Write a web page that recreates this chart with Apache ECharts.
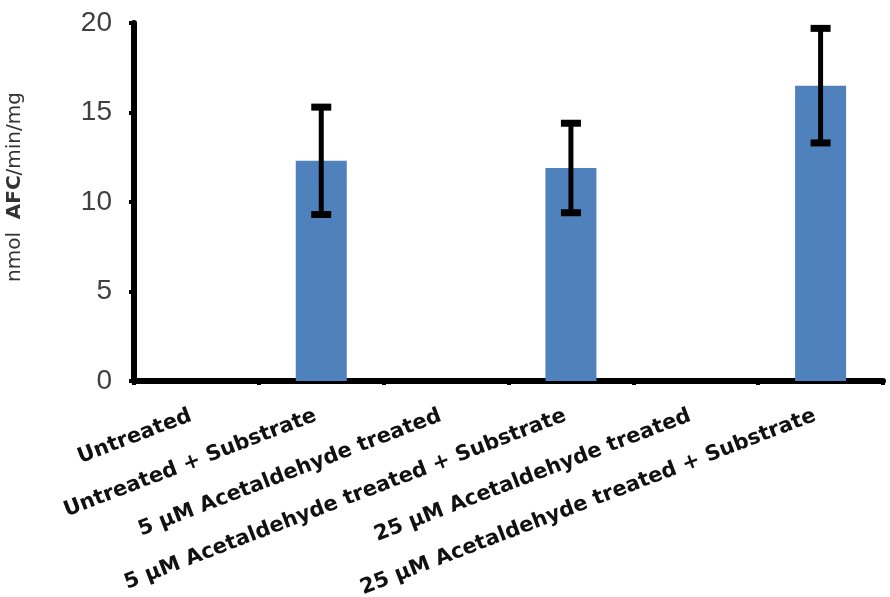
<!DOCTYPE html>
<html>
<head>
<meta charset="utf-8">
<script src="https://cdn.jsdelivr.net/npm/echarts@6/dist/echarts.min.js"></script>
<style>html,body{margin:0;padding:0;background:#fff;}#chart{width:890px;height:597px;}</style>
</head>
<body>
<div id="chart"></div>
<script>
const categories = [
  'Untreated',
  'Untreated + Substrate',
  '5 µM Acetaldehyde treated',
  '5 µM Acetaldehyde treated + Substrate',
  '25 µM Acetaldehyde treated',
  '25 µM Acetaldehyde treated + Substrate'
];
const means = [0, 12.3, 0, 11.9, 0, 16.5];
const errors = [0, 3.0, 0, 2.5, 0, 3.2];
const yTicks = [0, 5, 10, 15, 20];

const chart = echarts.init(document.getElementById('chart'));
const errData = means.map((m, i) => [i, m - errors[i], m + errors[i], errors[i]]);

chart.setOption({
  animation: false,
  backgroundColor: '#fff',
  grid: { left: 134, right: 7, top: 23, bottom: 216, containLabel: false, outerBoundsMode: 'none' },
  xAxis: {
    type: 'category',
    data: categories,
    axisLine: { lineStyle: { color: '#000', width: 6 } },
    axisTick: { show: true, length: 4, lineStyle: { color: '#000', width: 4 } },
    axisLabel: {
      interval: 0, rotate: 21, margin: 32,
      padding: [0, 6, 0, 0],
      fontFamily: 'DejaVu Sans, sans-serif',
      fontWeight: 'bold', fontSize: 21, color: '#111'
    }
  },
  yAxis: {
    type: 'value', min: yTicks[0], max: yTicks[yTicks.length - 1], interval: 5,
    name: '{a|nmol  }{b|AFC}{a|/min/mg}',
    nameLocation: 'middle', nameGap: 109,
    nameTextStyle: {
      fontSize: 20, fontFamily: 'DejaVu Sans, sans-serif', color: '#333',
      padding: [0, 0, 0, 30],
      rich: {
        a: { fontFamily: 'DejaVu Sans, sans-serif', fontSize: 20, color: '#333' },
        b: { fontFamily: 'DejaVu Sans, sans-serif', fontSize: 20, color: '#333', fontWeight: 'bold' }
      }
    },
    splitLine: { show: false },
    axisLine: { show: true, lineStyle: { color: '#000', width: 6 } },
    axisTick: { show: true, length: 5, lineStyle: { color: '#000', width: 4 } },
    axisLabel: {
      margin: 22, fontFamily: 'Liberation Sans, Arial, sans-serif',
      fontSize: 28, color: '#404040'
    }
  },
  series: [
    {
      type: 'bar', data: means, barWidth: 51,
      itemStyle: { color: '#4f81bd' }
    },
    {
      type: 'custom',
      data: errData,
      z: 10,
      renderItem: function (params, api) {
        if (api.value(3) <= 0) return null;
        const x = api.value(0);
        const lo = api.coord([x, api.value(1)]);
        const hi = api.coord([x, api.value(2)]);
        const hw = 10;
        const st = { stroke: '#000', lineWidth: 5 };
        const cst = { stroke: '#000', lineWidth: 7 };
        return {
          type: 'group',
          children: [
            { type: 'line', shape: { x1: lo[0], y1: lo[1], x2: hi[0], y2: hi[1] }, style: st },
            { type: 'line', shape: { x1: lo[0] - hw, y1: lo[1], x2: lo[0] + hw, y2: lo[1] }, style: cst },
            { type: 'line', shape: { x1: hi[0] - hw, y1: hi[1], x2: hi[0] + hw, y2: hi[1] }, style: cst }
          ]
        };
      }
    }
  ]
});
</script>
</body>
</html>
